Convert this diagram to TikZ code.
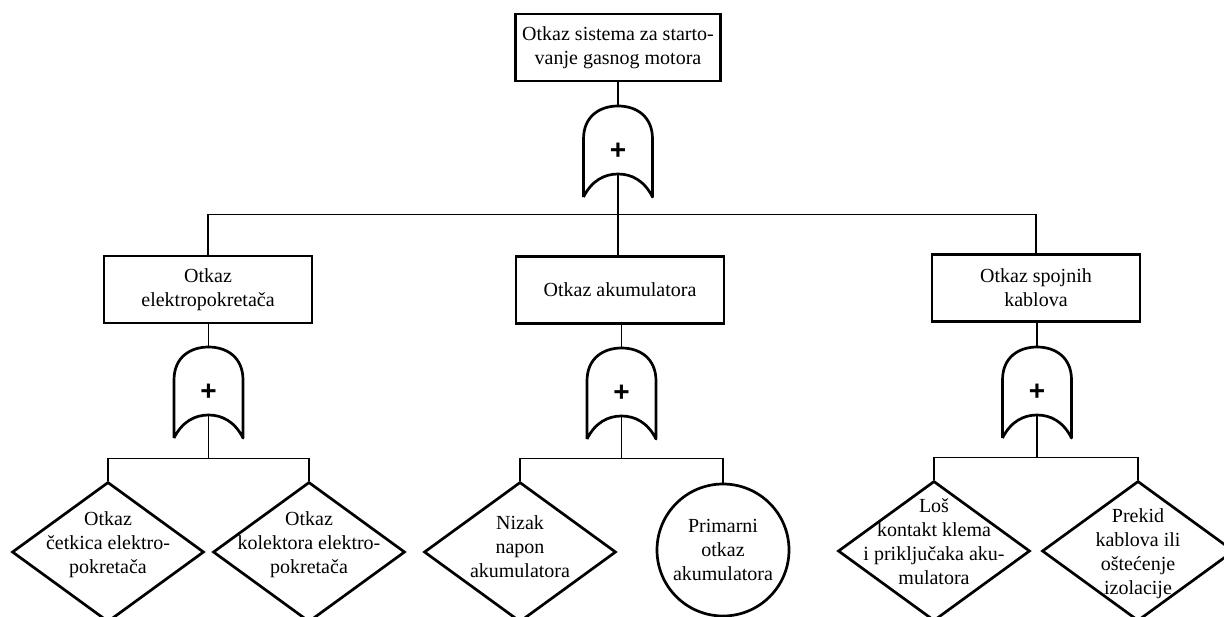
\documentclass[tikz,border=0pt]{standalone}
\usepackage{fontspec}
\setmainfont{Liberation Serif}
\newfontfamily\plusfont{Liberation Sans}
\usetikzlibrary{shapes.geometric}

\tikzset{
  orgate/.pic={
    \draw[line width=1.35pt,line join=round] (-34.5,91) -- (-34.5,33)
      .. controls (-34.5,10) and (-18,0) .. (0,0)
      .. controls (18,0) and (34.5,10) .. (34.5,33) -- (34.5,91)
      .. controls (26,74) and (13,68) .. (0,68)
      .. controls (-13,68) and (-26,74) .. (-34.5,91);
    \node[font=\plusfont\bfseries\fontsize{14}{14}\selectfont,inner sep=0pt] (-sign) at (0,45) {+};
    \coordinate (-in) at (0,0);
    \coordinate (-out) at (0,68);
  }
}

\begin{document}
\begin{tikzpicture}[x=0.5pt,y=-0.5pt,
  box/.style={draw,line width=1.4pt,minimum width=104pt,minimum height=33.5pt,align=center,inner sep=2pt},
  event/.style={diamond,draw,line width=1.35pt,minimum width=96pt,minimum height=70pt,inner sep=0pt},
  basic/.style={circle,draw,line width=1.35pt,minimum size=66pt,inner sep=0pt,align=center},
  evtext/.style={align=center,inner sep=0pt},
  link/.style={line width=0.6pt}]
\useasboundingbox (0,0) rectangle (1224,616);

\node[box,minimum width=102.5pt] (top) at (618,47.5) {Otkaz sistema za starto-\\vanje gasnog motora};
\pic (g0) at (618,106) {orgate};
\draw[link] (top) -- (g0-in);

\node[box] (elp) at (208,289.5) {Otkaz\\elektropokretača};
\node[box] (aku) at (620,290) {Otkaz akumulatora};
\node[box] (kab) at (1036,288) {Otkaz spojnih\\kablova};
\draw[link] (elp.north) -- ++(0,-40) coordinate (j0) -| (kab.north);
\draw[link] (g0-out) -- (g0-out |- aku.north);

\pic (g1) at (208.5,347) {orgate};
\pic (g2) at (621.5,348) {orgate};
\pic (g3) at (1037,347) {orgate};
\draw[link] (elp.south -| g1-in) -- (g1-in);
\draw[link] (aku.south -| g2-in) -- (g2-in);
\draw[link] (kab.south -| g3-in) -- (g3-in);

\node[event] (e1) at (108,552) {};
\node[event] (e2) at (309,552) {};
\node[event] (e3) at (520,552) {};
\node[basic] (e4) at (723,550) {Primarni\\otkaz\\akumulatora};
\node[event] (e5) at (934,551) {};
\node[event] (e6) at (1138,551) {};

\node[evtext] (t1) at (108,545) {Otkaz\\četkica elektro-\\pokretača};
\node[evtext] (t2) at (309,545) {Otkaz\\kolektora elektro-\\pokretača};
\node[evtext] (t3) at (520,547) {Nizak\\napon\\akumulatora};
\node[evtext] (t5) at (934,542) {Loš\\kontakt klema\\i priključaka aku-\\mulatora};
\node[evtext] (t6) at (1138,554) {Prekid\\kablova ili\\oštećenje\\izolacije};

\draw[link] (e1.north) -- ++(0,-22) coordinate (j1) -| (e2.north);
\draw[link] (g1-out) -- (g1-out |- j1);
\draw[link] (e3.north) -- ++(0,-22) coordinate (j2) -| (e4.north);
\draw[link] (g2-out) -- (g2-out |- j2);
\draw[link] (e5.north) -- ++(0,-22) coordinate (j3) -| (e6.north);
\draw[link] (g3-out) -- (g3-out |- j3);

\end{tikzpicture}
\end{document}
